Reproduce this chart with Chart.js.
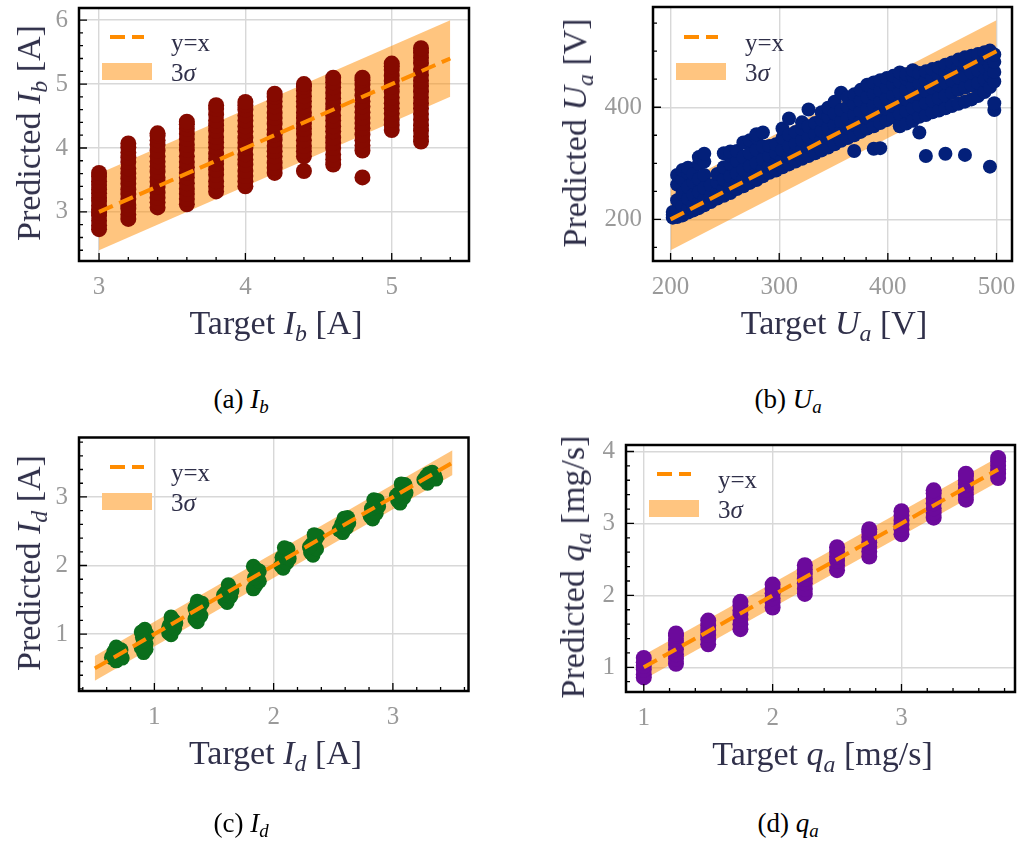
<!DOCTYPE html>
<html>
<head>
<meta charset="utf-8">
<script src="https://cdn.jsdelivr.net/npm/chart.js@4.4.1/dist/chart.umd.min.js"></script>
<style>
  body { margin: 0; width: 1023px; height: 844px; background: #fff; position: relative; overflow: hidden; font-family: 'Liberation Serif', serif; }
  canvas { position: absolute; }
  .lbl { position: absolute; white-space: nowrap; line-height: 1; color: #30304a; font-size: 34px; transform: translate(-50%, -50%); }
  .lbl.rot { transform: translate(-50%, -50%) rotate(-90deg); }
  .cap { position: absolute; white-space: nowrap; line-height: 1; color: #000; font-size: 27px; transform: translate(-50%, -50%); }
  sub { font-size: 0.7em; vertical-align: -0.28em; line-height: 0; }
  .leg { position: absolute; white-space: nowrap; line-height: 1; color: #30304a; font-size: 25px; transform: translateY(-50%); }
  .dash { position: absolute; height: 4px; background: #ff8c00; }
  .box { position: absolute; background: #ffc580; }
</style>
</head>
<body>
<script>
// (a) beam current: discrete targets, predictions per target
const ibTargets = [3.0, 3.2, 3.4, 3.6, 3.8, 4.0, 4.2, 4.4, 4.6, 4.8, 5.0, 5.2];
const ibPredicted = [
  [2.73, 2.79, 2.86, 2.94, 2.99, 3.04, 3.1, 3.17, 3.22, 3.29, 3.35, 3.42, 3.48, 3.55, 3.61],
  [2.89, 2.96, 3.05, 3.11, 3.2, 3.28, 3.35, 3.44, 3.52, 3.6, 3.68, 3.78, 3.85, 3.93, 4.01, 4.07],
  [3.07, 3.15, 3.22, 3.3, 3.39, 3.47, 3.54, 3.63, 3.71, 3.79, 3.87, 3.96, 4.05, 4.12, 4.19, 4.23],
  [3.12, 3.2, 3.28, 3.36, 3.45, 3.54, 3.61, 3.7, 3.78, 3.87, 3.97, 4.05, 4.14, 4.22, 4.3, 4.37, 4.41],
  [3.32, 3.4, 3.48, 3.58, 3.66, 3.75, 3.83, 3.91, 4.01, 4.09, 4.17, 4.27, 4.35, 4.43, 4.52, 4.61, 4.67],
  [3.4, 3.48, 3.56, 3.64, 3.74, 3.82, 3.9, 4.0, 4.08, 4.16, 4.26, 4.34, 4.43, 4.51, 4.6, 4.67, 4.72],
  [3.61, 3.69, 3.77, 3.87, 3.95, 4.03, 4.13, 4.21, 4.29, 4.38, 4.47, 4.55, 4.65, 4.73, 4.8, 4.85],
  [3.64, 3.87, 3.95, 4.03, 4.12, 4.22, 4.3, 4.38, 4.47, 4.55, 4.65, 4.73, 4.81, 4.9, 4.96, 5.0],
  [3.74, 3.82, 3.9, 4.0, 4.08, 4.16, 4.26, 4.34, 4.43, 4.51, 4.61, 4.69, 4.78, 4.86, 4.95, 5.03, 5.1],
  [3.54, 3.96, 4.04, 4.12, 4.21, 4.31, 4.39, 4.47, 4.56, 4.65, 4.73, 4.82, 4.91, 4.99, 5.06, 5.1],
  [4.28, 4.36, 4.44, 4.54, 4.62, 4.7, 4.79, 4.88, 4.96, 5.05, 5.13, 5.22, 5.28, 5.32],
  [4.1, 4.18, 4.27, 4.35, 4.44, 4.53, 4.62, 4.7, 4.79, 4.88, 4.97, 5.05, 5.14, 5.23, 5.33, 5.41, 5.49, 5.56]
];

// (b) anode voltage
const uaTargets = [202, 206, 211, 216, 221, 226, 231, 237, 243, 249, 255, 261, 267, 273, 279, 285, 291, 297, 303,
  309, 315, 321, 327, 333, 339, 345, 351, 357, 363, 369, 375, 381, 387, 393, 399, 405, 411, 417, 423, 429, 435,
  441, 447, 453, 459, 465, 471, 477, 483, 489, 494, 498];
const uaPredicted = [
  [203, 208, 213], [204, 216, 234, 262, 279], [207, 213, 224, 246, 271, 288], [212, 219, 237, 258, 283, 292],
  [216, 226, 244, 266, 281], [220, 230, 249, 272, 299, 311], [225, 236, 256, 279, 303, 317], [231, 242, 261],
  [237, 249, 266, 281], [242, 254, 271, 293, 318], [247, 259, 277, 299, 314, 321], [254, 266, 282, 304, 322],
  [259, 271, 289, 311, 337], [265, 278, 295, 318, 341], [270, 284, 301, 324, 346, 352], [277, 290, 307, 330, 355],
  [283, 296, 313, 331], [287, 301, 319, 334], [293, 307, 324, 345, 362], [298, 312, 330, 351, 380],
  [303, 318, 335, 356], [308, 324, 341, 361, 373], [313, 329, 347, 366, 396], [318, 335, 352, 372],
  [323, 341, 358, 378, 391], [328, 346, 364, 383, 399], [334, 352, 369, 389, 410], [340, 358, 375, 395, 426],
  [345, 363, 381, 401, 418], [322, 350, 369, 387, 406, 423], [356, 375, 393, 412, 431], [362, 381, 398, 418, 440],
  [326, 366, 386, 404, 424, 444], [327, 372, 392, 410, 430, 448], [377, 397, 416, 436, 452], [382, 402, 422, 441, 456],
  [366, 388, 408, 427, 446, 462], [371, 393, 414, 432, 451, 459], [376, 398, 419, 437, 456, 466],
  [355, 383, 403, 424, 443, 461], [313, 386, 407, 429, 448, 464], [391, 412, 434, 453, 468], [394, 416, 439, 457, 471],
  [317, 398, 421, 444, 462, 476], [402, 426, 448, 467, 480], [406, 431, 453, 471, 485], [315, 410, 435, 457, 475, 489],
  [414, 439, 462, 479, 492], [420, 443, 466, 483, 495], [427, 449, 471, 487, 498], [294, 436, 456, 475, 491, 501],
  [395, 407, 446, 463, 481, 494]
];

// (c) discharge current: [target, predicted]
const idPoints = [
  [0.64, 0.66], [0.66, 0.74], [0.68, 0.61], [0.70, 0.70], [0.72, 0.77], [0.73, 0.65], [0.68, 0.81], [0.66, 0.69],
  [0.89, 0.80], [0.91, 0.73], [0.93, 0.86], [0.90, 0.95], [0.94, 0.99], [0.92, 1.07], [0.89, 1.03], [0.93, 0.78], [0.91, 0.90],
  [1.12, 1.02], [1.14, 0.99], [1.17, 1.08], [1.13, 1.14], [1.16, 1.20], [1.14, 1.25], [1.18, 1.16], [1.12, 1.10],
  [1.34, 1.22], [1.36, 1.18], [1.39, 1.27], [1.35, 1.33], [1.38, 1.40], [1.36, 1.48], [1.40, 1.45], [1.34, 1.38],
  [1.59, 1.50], [1.61, 1.46], [1.64, 1.55], [1.60, 1.61], [1.63, 1.67], [1.62, 1.72], [1.65, 1.63], [1.58, 1.57],
  [1.83, 1.66], [1.85, 1.71], [1.88, 1.77], [1.84, 1.82], [1.87, 1.88], [1.85, 1.95], [1.83, 1.99], [1.88, 1.92],
  [2.06, 2.00], [2.08, 1.96], [2.11, 2.04], [2.07, 2.12], [2.10, 2.18], [2.12, 2.24], [2.09, 2.26], [2.13, 2.10],
  [2.31, 2.19], [2.33, 2.15], [2.36, 2.24], [2.32, 2.31], [2.35, 2.37], [2.37, 2.43], [2.34, 2.45], [2.30, 2.27],
  [2.55, 2.52], [2.58, 2.48], [2.61, 2.55], [2.57, 2.60], [2.60, 2.65], [2.62, 2.70], [2.59, 2.69], [2.63, 2.62],
  [2.81, 2.72], [2.83, 2.68], [2.86, 2.76], [2.82, 2.83], [2.85, 2.89], [2.87, 2.95], [2.84, 2.96], [2.88, 2.86],
  [3.04, 2.95], [3.06, 2.91], [3.09, 2.99], [3.05, 3.05], [3.08, 3.12], [3.10, 3.18], [3.07, 3.19], [3.11, 3.06], [3.03, 3.02],
  [3.26, 3.25], [3.29, 3.20], [3.32, 3.27], [3.35, 3.31], [3.30, 3.34], [3.33, 3.36], [3.36, 3.26], [3.28, 3.30]
];

// (d) anode mass flow
const qaTargets = [1.0, 1.25, 1.5, 1.75, 2.0, 2.25, 2.5, 2.75, 3.0, 3.25, 3.5, 3.75];
const qaPredicted = [
  [0.86, 0.9, 0.97, 1.02, 1.07, 1.13],
  [1.05, 1.12, 1.18, 1.25, 1.31, 1.37, 1.44, 1.47],
  [1.32, 1.39, 1.45, 1.52, 1.58, 1.65],
  [1.53, 1.6, 1.67, 1.73, 1.79, 1.86, 1.91],
  [1.83, 1.9, 1.96, 2.03, 2.09, 2.15],
  [2.02, 2.09, 2.17, 2.23, 2.3, 2.36, 2.42],
  [2.35, 2.42, 2.48, 2.54, 2.61, 2.67],
  [2.54, 2.61, 2.68, 2.74, 2.81, 2.88, 2.92],
  [2.85, 2.92, 2.98, 3.04, 3.11, 3.17],
  [3.08, 3.15, 3.21, 3.28, 3.35, 3.42, 3.46],
  [3.33, 3.4, 3.47, 3.54, 3.6, 3.66, 3.69],
  [3.63, 3.69, 3.75, 3.8, 3.86, 3.91]
];

// axis ticks per panel
const ibXTicks = [3, 4, 5], ibYTicks = [3, 4, 5, 6];
const uaXTicks = [200, 300, 400, 500], uaYTicks = [200, 400];
const idXTicks = [1, 2, 3], idYTicks = [1, 2, 3];
const qaXTicks = [1, 2, 3], qaYTicks = [1, 2, 3, 4];

// y = x reference range and 3 sigma half width
const ibBand = [3.0, 5.4], ibSigma3 = 0.6;
const uaBand = [200, 500], uaSigma3 = 55;
const idBand = [0.5, 3.5], idSigma3 = 0.18;
const qaBand = [1.0, 3.75], qaSigma3 = 0.17;

function fromColumns(targets, predicted) {
  const pts = [];
  targets.forEach((t, i) => predicted[i].forEach(p => pts.push({ x: t, y: p })));
  return pts;
}

Chart.defaults.font.family = "'Liberation Serif', serif";

const framePlugin = {
  id: 'frame',
  afterDraw(chart, args, opts) {
    const { ctx, chartArea: a } = chart;
    const xs = chart.scales.x, ys = chart.scales.y;
    ctx.save();
    ctx.strokeStyle = '#000';
    ctx.lineWidth = 1.3;
    ctx.beginPath();
    for (let i = Math.ceil(xs.min / opts.xMinor); i * opts.xMinor <= xs.max; i++) {
      const v = i * opts.xMinor;
      const px = xs.getPixelForValue(v);
      const len = opts.xMajor.some(m => Math.abs(m - v) < 1e-6) ? 8 : 4;
      ctx.moveTo(px, a.bottom);
      ctx.lineTo(px, a.bottom - len);
    }
    for (let i = Math.ceil(ys.min / opts.yMinor); i * opts.yMinor <= ys.max; i++) {
      const v = i * opts.yMinor;
      const py = ys.getPixelForValue(v);
      const len = opts.yMajor.some(m => Math.abs(m - v) < 1e-6) ? 8 : 4;
      ctx.moveTo(a.left, py);
      ctx.lineTo(a.left + len, py);
    }
    ctx.stroke();
    ctx.lineWidth = 2.5;
    ctx.strokeRect(a.left, a.top, a.right - a.left, a.bottom - a.top);
    ctx.restore();
  }
};

const panels = [
  { box: [79, 5, 473, 261], xr: [2.863, 5.528], yr: [2.232, 6.19], xt: ibXTicks, yt: ibYTicks, minor: [0.2, 0.2],
    color: '#860a00', radius: 8, points: fromColumns(ibTargets, ibPredicted), band: ibBand, s3: ibSigma3,
    xTitle: 'Target <i>I</i><sub><i>b</i></sub> [A]', yTitle: 'Predicted <i>I</i><sub><i>b</i></sub> [A]', yTitleX: 29,
    cap: '(a) <i>I</i><sub><i>b</i></sub>', capPos: [241, 399] },
  { box: [653, 5, 1015, 261], xr: [183.8, 514.3], yr: [125.7, 578.8], xt: uaXTicks, yt: uaYTicks, minor: [20, 50],
    color: '#03207a', radius: 7, points: fromColumns(uaTargets, uaPredicted), band: uaBand, s3: uaSigma3,
    xTitle: 'Target <i>U</i><sub><i>a</i></sub> [V]', yTitle: 'Predicted <i>U</i><sub><i>a</i></sub> [V]', yTitleX: 575,
    cap: '(b) <i>U</i><sub><i>a</i></sub>', capPos: [788, 399] },
  { box: [79, 435, 472, 691], xr: [0.368, 3.634], yr: [0.17, 3.867], xt: idXTicks, yt: idYTicks, minor: [0.2, 0.2],
    color: '#0a6e1c', radius: 7.5, points: idPoints.map(p => ({ x: p[0], y: p[1] })), band: idBand, s3: idSigma3,
    xTitle: 'Target <i>I</i><sub><i>d</i></sub> [A]', yTitle: 'Predicted <i>I</i><sub><i>d</i></sub> [A]', yTitleX: 29,
    cap: '(c) <i>I</i><sub><i>d</i></sub>', capPos: [241, 823] },
  { box: [626, 442, 1019, 692], xr: [0.862, 3.881], yr: [0.657, 4.09], xt: qaXTicks, yt: qaYTicks, minor: [0.2, 0.2],
    color: '#6c0a9c', radius: 8, points: fromColumns(qaTargets, qaPredicted), band: qaBand, s3: qaSigma3,
    xTitle: 'Target <i>q</i><sub><i>a</i></sub> [mg/s]', yTitle: 'Predicted <i>q</i><sub><i>a</i></sub> [mg/s]', yTitleX: 573,
    cap: '(d) <i>q</i><sub><i>a</i></sub>', capPos: [788, 823] }
];

function addEl(cls, html, left, top, extra) {
  const d = document.createElement('div');
  d.className = cls;
  d.innerHTML = html;
  d.style.left = left + 'px';
  d.style.top = top + 'px';
  if (extra) Object.assign(d.style, extra);
  document.body.appendChild(d);
  return d;
}

panels.forEach(p => {
  const [L, T, R, B] = p.box;
  const canvas = document.createElement('canvas');
  canvas.width = R - L + 83;
  canvas.height = B - T + 55;
  canvas.style.left = (L - 79) + 'px';
  canvas.style.top = (T - 5) + 'px';
  document.body.appendChild(canvas);

  const b0 = p.band[0], b1 = p.band[1];
  new Chart(canvas.getContext('2d'), {
    type: 'scatter',
    data: {
      datasets: [
        { type: 'line', data: [{ x: b0, y: b0 }, { x: b1, y: b1 }], borderColor: '#ff8c00', borderWidth: 4,
          borderDash: [15, 7], pointRadius: 0, fill: false, order: 1 },
        { data: p.points, backgroundColor: p.color, borderWidth: 0, pointRadius: p.radius, order: 2 },
        { type: 'line', data: [{ x: b0, y: b0 + p.s3 }, { x: b1, y: b1 + p.s3 }], borderColor: 'transparent',
          borderWidth: 0, pointRadius: 0, fill: '+1', backgroundColor: 'rgba(255,140,0,0.5)', order: 3 },
        { type: 'line', data: [{ x: b0, y: b0 - p.s3 }, { x: b1, y: b1 - p.s3 }], borderColor: 'transparent',
          borderWidth: 0, pointRadius: 0, fill: false, order: 4 }
      ]
    },
    options: {
      responsive: false,
      animation: false,
      events: [],
      layout: { padding: { top: 5, right: 4, left: 0, bottom: 0 } },
      scales: {
        x: {
          type: 'linear', min: p.xr[0], max: p.xr[1],
          afterBuildTicks: s => { s.ticks = p.xt.map(v => ({ value: v })); },
          afterFit: s => { s.height = 50; s.paddingLeft = 0; s.paddingRight = 0; },
          grid: { color: '#d8d8d8', lineWidth: 1.4, drawTicks: false },
          border: { display: false },
          ticks: { color: '#9a9a9a', font: { size: 25 }, padding: 11, maxRotation: 0, autoSkip: false, callback: v => String(v) }
        },
        y: {
          type: 'linear', min: p.yr[0], max: p.yr[1],
          afterBuildTicks: s => { s.ticks = p.yt.map(v => ({ value: v })); },
          afterFit: s => { s.width = 79; s.paddingTop = 0; s.paddingBottom = 0; },
          grid: { color: '#d8d8d8', lineWidth: 1.4, drawTicks: false },
          border: { display: false },
          ticks: { color: '#9a9a9a', font: { size: 25 }, padding: 11, autoSkip: false, callback: v => String(v) }
        }
      },
      plugins: {
        legend: { display: false },
        tooltip: { enabled: false },
        frame: { xMinor: p.minor[0], yMinor: p.minor[1], xMajor: p.xt, yMajor: p.yt }
      }
    },
    plugins: [framePlugin]
  });

  addEl('lbl', p.xTitle, (L + R) / 2, B + 62);
  addEl('lbl rot', p.yTitle, p.yTitleX, (T + B) / 2);
  addEl('cap', p.cap, p.capPos[0], p.capPos[1]);

  // legend inside the axes, top left
  addEl('dash', '', L + 31, T + 30, { width: '15px' });
  addEl('dash', '', L + 53, T + 30, { width: '12px' });
  addEl('box', '', L + 23, T + 58, { width: '50px', height: '17px' });
  addEl('leg', 'y=x', L + 92, T + 37);
  addEl('leg', '3<i>σ</i>', L + 92, T + 67);
});
</script>
</body>
</html>
